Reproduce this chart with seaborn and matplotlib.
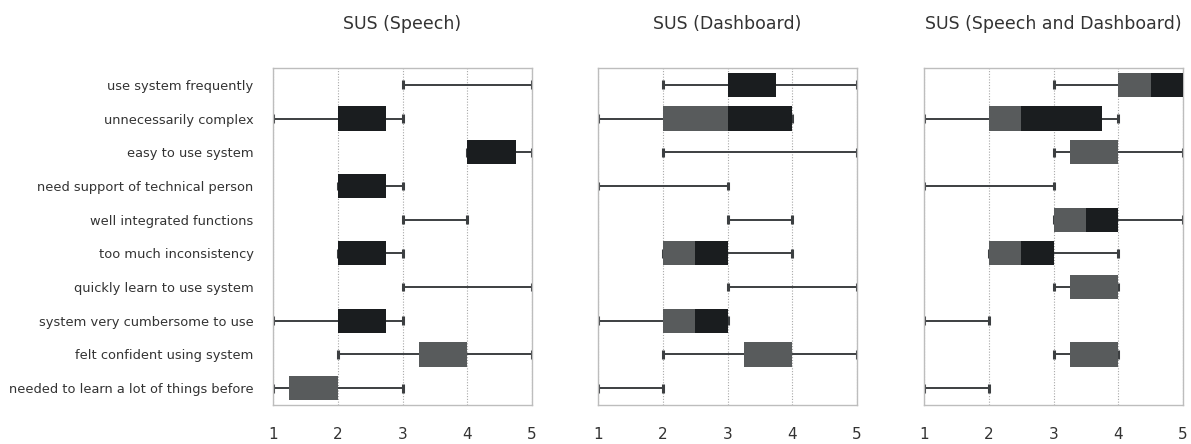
import matplotlib
matplotlib.use("Agg")
import matplotlib.pyplot as plt
import numpy as np
import seaborn as sns

# Questionnaire items (top to bottom)
items = [
    "use system frequently",
    "unnecessarily complex",
    "easy to use system",
    "need support of technical person",
    "well integrated functions",
    "too much inconsistency",
    "quickly learn to use system",
    "system very cumbersome to use",
    "felt confident using system",
    "needed to learn a lot of things before",
]

panel_titles = ["SUS (Speech)", "SUS (Dashboard)", "SUS (Speech and Dashboard)"]
x_ticks = [1, 2, 3, 4, 5]

# Five-number summaries per condition
speech_min = [3, 1, 4, 2, 3, 2, 3, 1, 2, 1]
speech_q1 = [3, 2, 4, 2, 3, 2, 3, 2, 3.25, 1.25]
speech_med = [3, 2, 4, 2, 3, 2, 3, 2, 4, 2]
speech_q3 = [3, 2.75, 4.75, 2.75, 3, 2.75, 3, 2.75, 4, 2]
speech_max = [5, 3, 5, 3, 4, 3, 5, 3, 5, 3]

dash_min = [2, 1, 2, 1, 3, 2, 3, 1, 2, 1]
dash_q1 = [3, 2, 2, 1, 3, 2, 3, 2, 3.25, 1]
dash_med = [3, 3, 2, 1, 3, 2.5, 3, 2.5, 4, 1]
dash_q3 = [3.75, 4, 2, 1, 3, 3, 3, 3, 4, 1]
dash_max = [5, 4, 5, 3, 4, 4, 5, 3, 5, 2]

both_min = [3, 1, 3, 1, 3, 2, 3, 1, 3, 1]
both_q1 = [4, 2, 3.25, 1, 3, 2, 3.25, 1, 3.25, 1]
both_med = [4.5, 2.5, 4, 1, 3.5, 2.5, 4, 1, 4, 1]
both_q3 = [5, 3.75, 4, 1, 4, 3, 4, 1, 4, 1]
both_max = [5, 4, 5, 3, 5, 4, 4, 2, 4, 2]

panels = [
    (speech_min, speech_q1, speech_med, speech_q3, speech_max),
    (dash_min, dash_q1, dash_med, dash_q3, dash_max),
    (both_min, both_q1, both_med, both_q3, both_max),
]

sns.set_theme(style="white")
plt.rcParams["font.family"] = ["DejaVu Sans"]

LOWER = "#585b5c"
UPPER = "#1a1d1f"
WHISKER = "#3c3f41"
TEXT = "#333333"

fig = plt.figure(figsize=(11.91, 4.44), dpi=100)
lefts = [273 / 1191, 598 / 1191, 924 / 1191]
width = 259 / 1191
bottom = 39 / 444
height = 337 / 444

ypos = np.arange(len(items))
box_h = 0.72
cap_h = 0.26


def draw_segment(ax, start, stop, color):
    # only rows with a non-empty span get a bar
    span = stop - start
    keep = span > 0
    ax.barh(ypos[keep], span[keep], left=start[keep], height=box_h,
            color=color, lw=0, zorder=3)


for k, (mn, q1, md, q3, mx) in enumerate(panels):
    ax = fig.add_axes([lefts[k], bottom, width, height])
    mn, q1, md, q3, mx = map(np.asarray, (mn, q1, md, q3, mx))

    # whiskers and caps
    ax.hlines(ypos, mn, mx, color=WHISKER, lw=1.4, zorder=2)
    ax.vlines(mn, ypos - cap_h / 2, ypos + cap_h / 2, color=WHISKER, lw=2.2, zorder=2)
    ax.vlines(mx, ypos - cap_h / 2, ypos + cap_h / 2, color=WHISKER, lw=2.2, zorder=2)

    # two-tone box: Q1..median and median..Q3
    draw_segment(ax, q1, md, LOWER)
    draw_segment(ax, md, q3, UPPER)

    ax.set_xlim(1, 5)
    ax.set_ylim(len(items) - 0.5, -0.5)
    ax.set_xticks(x_ticks)
    ax.set_xticklabels([str(t) for t in x_ticks], fontsize=11, color=TEXT)
    ax.tick_params(axis="x", length=0, pad=16)
    ax.tick_params(axis="y", length=0, pad=14)
    ax.set_yticks(ypos)
    if k == 0:
        ax.set_yticklabels(items, fontsize=9.4, color=TEXT)
    else:
        ax.set_yticklabels([])

    ax.xaxis.grid(True, linestyle=(0, (1, 1.5)), color="#a8a8a8", lw=0.8, zorder=0)
    ax.yaxis.grid(False)
    ax.set_axisbelow(True)
    for s in ax.spines.values():
        s.set_color("#bdbdbd")
        s.set_linewidth(1.0)

    ax.set_title(panel_titles[k], fontsize=12.5, color=TEXT, pad=28)

fig.savefig("out.png", dpi=100)
